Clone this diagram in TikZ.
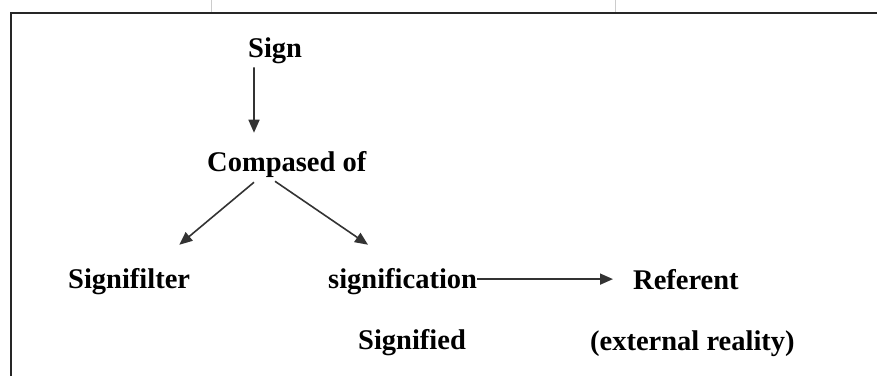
\documentclass[tikz,border=0pt]{standalone}
\usepackage{fontspec}
\setmainfont{Liberation Serif}
\usetikzlibrary{arrows.meta}

\begin{document}
\begin{tikzpicture}[x=10pt, y=-10pt,
    word/.style={anchor=base west, inner sep=0pt, font=\fontsize{28.5}{34}\selectfont\bfseries},
    arr/.style={-{Triangle[length=13pt,width=11pt]}, line width=1.6pt, black!80},
    frame/.style={line width=2.4pt, black!85},
    rule/.style={gray!40, line width=0.6pt}
]
    \useasboundingbox (0,0) rectangle (87.7,37.6);

    % Page frame
    \draw[frame] (1.1,37.6) -- (1.1,1.3) -- (87.7,1.3);
    \draw[rule] (21.1,0) -- (21.1,1.2);
    \draw[rule] (61.5,0) -- (61.5,1.2);

    % Terms
    \node[word] (sign) at (24.8,5.7) {Sign};
    \node[word] (comp) at (20.7,17.1) {Compased of};
    \node[word] (sfil) at (6.8,28.8) {Signifilter};
    \node[word] (sigf) at (32.8,28.8) {signification};
    \node[word] (ref) at (63.3,28.9) {Referent};
    \node[word] (sigd) at (35.8,34.9) {Signified};
    \node[word] (ext) at (59.0,35.0) {(external reality)};

    % Arrows
    \draw[arr] ([shift={(0.6,0.4)}]sign.south west) -- ([shift={(4.7,-1.8)}]comp.north west);
    \draw[arr] ([shift={(4.7,0.5)}]comp.south west) -- ([shift={(-1.1,-2.3)}]sfil.north east);
    \draw[arr] ([shift={(6.8,0.4)}]comp.south west) -- ([shift={(4.0,-2.3)}]sigf.north west);
    \draw[arr] (sigf.east |- ref.west) -- ([xshift=-20pt]ref.west);
\end{tikzpicture}
\end{document}
